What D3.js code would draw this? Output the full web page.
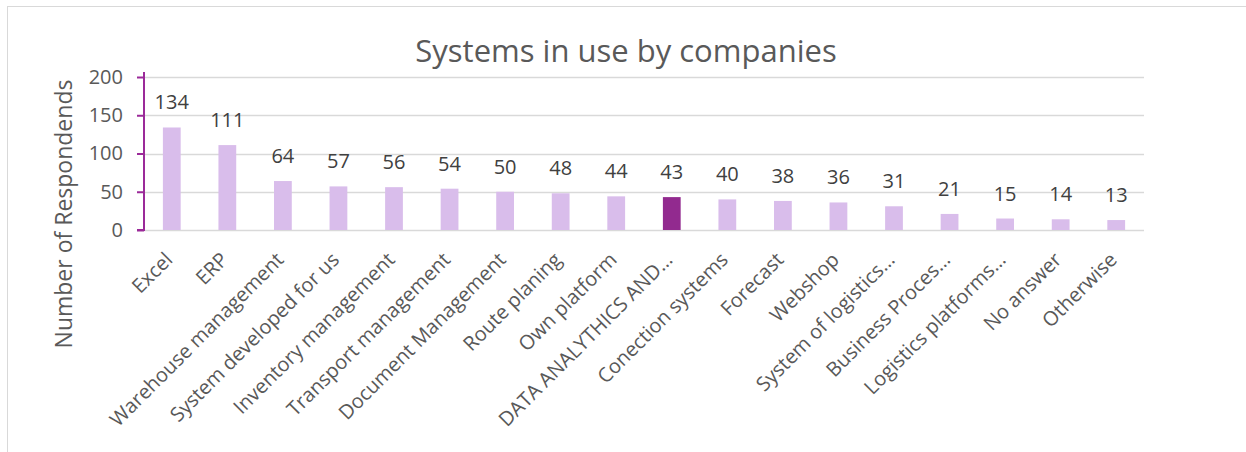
<!DOCTYPE html>
<html>
<head>
<meta charset="utf-8">
<script src="https://cdn.jsdelivr.net/npm/d3@7"></script>
<style>
  html, body { margin: 0; padding: 0; background: #fff; }
  svg text { font-family: "Open Sans", "Noto Sans", sans-serif; fill: #595959; }
</style>
</head>
<body>
<div id="chart"></div>
<script>
// Systems in use by companies – column chart, one highlighted bar
const categories = [
  'Excel', 'ERP', 'Warehouse management', 'System developed for us',
  'Inventory management', 'Transport management', 'Document Management',
  'Route planing', 'Own platform', 'DATA ANALYTHICS AND…', 'Conection systems',
  'Forecast', 'Webshop', 'System of logistics…', 'Business Proces…',
  'Logistics platforms…', 'No answer', 'Otherwise'
];
const values = [134, 111, 64, 57, 56, 54, 50, 48, 44, 43, 40, 38, 36, 31, 21, 15, 14, 13];
const highlighted = ['DATA ANALYTHICS AND…'];
const yTicks = [0, 50, 100, 150, 200];

const W = 1246, H = 452;
const MARGIN = { top: 77, right: 102, bottom: 222, left: 144 };
const innerW = W - MARGIN.left - MARGIN.right;
const innerH = H - MARGIN.top - MARGIN.bottom;

const BAR_COLOR = '#d9bdeb';
const HIGHLIGHT = '#922a8f';
const AXIS_COLOR = '#9b2a99';

const svg = d3.select('#chart').append('svg')
  .attr('width', W)
  .attr('height', H);

// chart frame
svg.append('rect')
  .attr('x', 7.5).attr('y', 6.5)
  .attr('width', W + 10).attr('height', H + 10)
  .attr('fill', 'none')
  .attr('stroke', '#d9d9d9');

const g = svg.append('g').attr('transform', `translate(${MARGIN.left},${MARGIN.top})`);

const x = d3.scaleBand().domain(categories).range([0, innerW]).paddingInner(0.68).paddingOuter(0.34);
const y = d3.scaleLinear().domain([0, 200]).range([innerH, 0]);

// gridlines
g.append('g')
  .selectAll('line')
  .data(yTicks)
  .join('line')
    .attr('x1', 0).attr('x2', innerW)
    .attr('y1', d => Math.round(y(d)) + 0.5)
    .attr('y2', d => Math.round(y(d)) + 0.5)
    .attr('stroke', '#d9d9d9')
    .attr('stroke-width', 1.5);

// bars
g.append('g')
  .selectAll('rect')
  .data(categories)
  .join('rect')
    .attr('x', d => x(d))
    .attr('y', (d, i) => y(values[i]))
    .attr('width', x.bandwidth())
    .attr('height', (d, i) => innerH - y(values[i]))
    .attr('fill', d => highlighted.includes(d) ? HIGHLIGHT : BAR_COLOR);

// data labels
g.append('g')
  .selectAll('text')
  .data(categories)
  .join('text')
    .attr('x', d => x(d) + x.bandwidth() / 2)
    .attr('y', (d, i) => y(values[i]) - 18)
    .attr('text-anchor', 'middle')
    .style('font-size', '20px')
    .style('fill', '#404040')
    .text((d, i) => values[i]);

// y axis
const yAxis = g.append('g')
  .call(d3.axisLeft(y).tickValues(yTicks).tickSize(7).tickPadding(14));
yAxis.select('.domain').attr('stroke', AXIS_COLOR).attr('stroke-width', 2)
  .attr('d', `M-7,${y(0)}H0V-5`);
yAxis.selectAll('.tick line').attr('stroke', AXIS_COLOR).attr('stroke-width', 2);
yAxis.selectAll('.tick text').style('font-size', '20px').style('fill', '#595959')
  .attr('font-family', null);

// x axis labels (rotated)
const xAxis = g.append('g')
  .attr('transform', `translate(0,${innerH})`)
  .call(d3.axisBottom(x).tickSize(0).tickPadding(0));
xAxis.select('.domain').remove();
xAxis.selectAll('.tick text')
  .attr('font-family', null)
  .style('font-size', '20px')
  .style('fill', '#595959')
  .attr('text-anchor', 'end')
  .attr('dy', null)
  .attr('y', 0)
  .attr('transform', 'translate(2,31) rotate(-45)');

// title
svg.append('text')
  .attr('x', 626)
  .attr('y', 62)
  .attr('text-anchor', 'middle')
  .style('font-size', '31px')
  .text('Systems in use by companies');

// y axis title
svg.append('text')
  .attr('transform', 'translate(72,214) rotate(-90)')
  .attr('text-anchor', 'middle')
  .style('font-size', '23px')
  .text('Number of Respondends');
</script>
</body>
</html>
